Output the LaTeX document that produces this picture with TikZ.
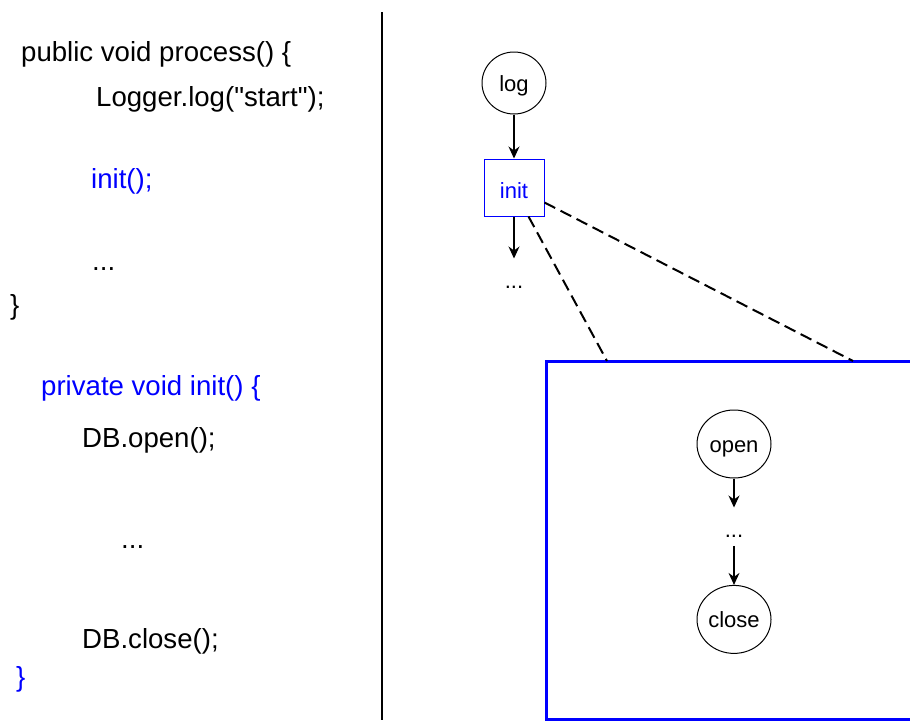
\documentclass[tikz,border=0pt]{standalone}
\usepackage{fontspec}
\setmainfont{Liberation Sans}
\usepackage{tikz}
\usetikzlibrary{positioning,arrows.meta,shapes.geometric,calc}
\definecolor{callblue}{RGB}{0,0,255}
\newcommand{\codefont}{\fontsize{27.6}{32}\selectfont}
\newcommand{\nodefont}{\fontsize{22}{26}\selectfont}

\begin{document}
\begin{tikzpicture}[
    x=1pt, y=-1pt,
    code/.style   ={anchor=base west, inner sep=0pt, font=\codefont},
    call/.style   ={code, text=callblue},
    method/.style ={ellipse, draw, line width=1pt, inner sep=0pt, font=\nodefont,
                    text height=16pt, text depth=0pt},
    callbox/.style={rectangle, draw=callblue, line width=1pt, text=callblue, inner sep=0pt,
                    minimum width=60pt, minimum height=57pt, font=\nodefont,
                    text height=21pt, text depth=0pt},
    more/.style   ={inner sep=2pt, text height=28pt, text depth=6pt, font=\nodefont},
    zoom/.style   ={rectangle, draw=callblue, line width=3pt, outer sep=0pt,
                    minimum width=420pt, minimum height=358pt, anchor=north west},
    arr/.style    ={-{Stealth[length=12pt, width=11pt, inset=4pt]}, line width=1.2pt},
    link/.style   ={line width=2pt, dash pattern=on 12pt off 6pt}]
    \useasboundingbox (0,0) rectangle (910,720);
    \clip (0,0) rectangle (910,720);

    % source code on the left
    \node[code] (process)  at (21,61)   {public void process() \{};
    \node[code] (logline)  at (96,106)  {Logger.log(\textquotedbl start\textquotedbl);};
    \node[call] (initline) at (91,188)  {init();};
    \node[code] (skipa)    at (92,270)  {...};
    \node[code] (enda)     at (10,314)  {\}};
    \node[call] (inithead) at (41,395)  {private void init() \{};
    \node[code] (openline) at (82,447)  {DB.open();};
    \node[code] (skipb)    at (121,548) {...};
    \node[code] (closeline)at (82,648)  {DB.close();};
    \node[call] (endb)     at (16,686)  {\}};

    % divider
    \draw[line width=2.5pt] (382,12) -- (382,720);

    % call graph of process()
    \node[method, minimum width=64pt, minimum height=62pt] (log) at (514,83) {log};
    \node[callbox, below=44pt of log]  (init)  {init};
    \node[more, below=42pt of init]    (more1) {...};
    \draw[arr] (log) -- (init);
    \draw[arr] (init) -- (more1);

    % expanded view of init()
    \node[zoom] (initview) at (546,361) {};
    \node[method, minimum width=74pt, minimum height=68pt] (open) at (734,444) {open};
    \node[more, below=29pt of open] (more2) {...};
    \node[method, minimum width=74pt, minimum height=68pt, below=39pt of more2] (close) {close};
    \draw[arr] (open) -- (more2);
    \draw[arr] (more2) -- (close);

    \draw[link] ($(init.south east)+(-16,0)$) -- ($(initview.north west)+(61,0)$);
    \draw[link] ($(init.east)+(0,15)$) -- ($(initview.north west)+(307,0)$);
\end{tikzpicture}
\end{document}
